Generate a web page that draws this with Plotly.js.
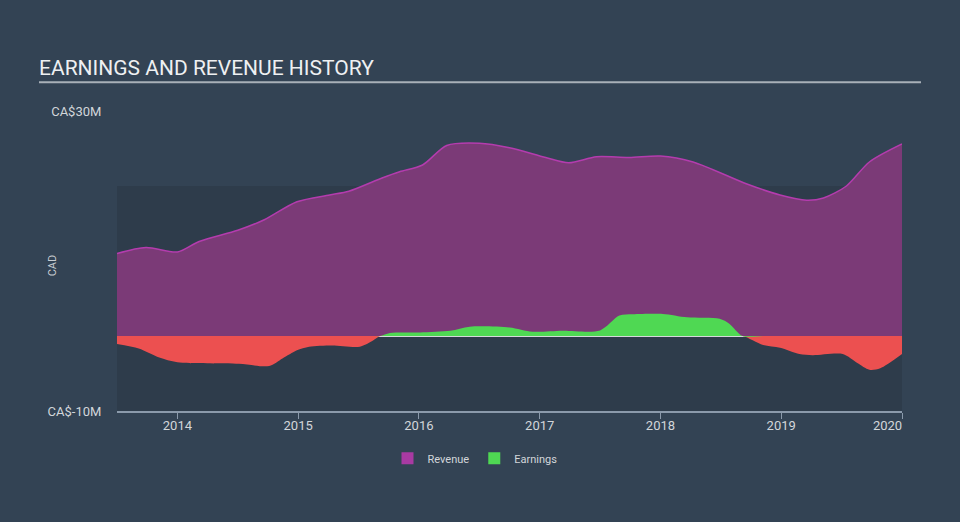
<!DOCTYPE html>
<html><head><meta charset="utf-8">
<script src="https://cdn.plot.ly/plotly-3.0.1.min.js"></script>
<style>html,body{margin:0;padding:0;background:#334354;}#chart{width:960px;height:522px;}</style>
</head><body><div id="chart"></div>
<script>
const revenueYears = [2013.5,2013.74,2014.0,2014.18,2014.5,2014.72,2014.99,2015.26,2015.42,2015.7,2015.84,2016.03,2016.23,2016.5,2016.75,2017.05,2017.24,2017.47,2017.74,2018.0,2018.27,2018.71,2018.99,2019.21,2019.35,2019.54,2019.73,2020.0];
const revenueValues = [11.0,11.8,11.2,12.6,14.1,15.5,17.9,18.8,19.3,21.1,21.9,22.8,25.4,25.7,25.1,23.8,23.1,23.9,23.8,24.0,23.2,20.3,18.8,18.1,18.4,20.0,23.2,25.6];
const earningsYears = [2013.5,2013.68,2013.85,2014.0,2014.51,2014.76,2014.87,2014.99,2015.09,2015.28,2015.51,2015.62,2015.68,2015.76,2016.01,2016.26,2016.42,2016.75,2016.94,2017.19,2017.5,2017.66,2017.77,2018.02,2018.22,2018.49,2018.57,2018.68,2018.85,2018.99,2019.15,2019.26,2019.51,2019.63,2019.73,2019.82,2020.0];
const earningsValues = [-1.07,-1.66,-2.87,-3.5,-3.7,-4.0,-3.0,-1.9,-1.43,-1.26,-1.43,-0.6,0,0.4,0.48,0.7,1.25,1.15,0.58,0.7,0.75,2.72,2.9,2.95,2.5,2.3,1.65,0,-1.2,-1.57,-2.4,-2.55,-2.4,-3.6,-4.5,-4.3,-2.4];
const yearTicks = [2014,2015,2016,2017,2018,2019,2020];
const yTickVals = [30,-10];
const yTickText = ['CA$30M','CA$-10M'];
const seriesNames = ['Revenue','Earnings'];

const earnPos = earningsValues.map(v => Math.max(v,0));
const earnNeg = earningsValues.map(v => Math.min(v,0));
const nb = '\u00a0'.repeat(9);
const xTickText = yearTicks.map((t,i) => i === yearTicks.length-1 ? String(t)+nb : String(t));

const traces = [
  {x: revenueYears, y: revenueValues, type:'scatter', mode:'lines', fill:'tozeroy',
   line:{shape:'spline', smoothing:0.8, color:'#b43cae', width:1.5}, fillcolor:'#7b3a77', showlegend:false, hoverinfo:'skip'},
  {x: earningsYears, y: earnNeg, type:'scatter', mode:'lines', fill:'tozeroy',
   line:{shape:'spline', smoothing:0.8, color:'#ec5050', width:0}, fillcolor:'#ec5050', showlegend:false, hoverinfo:'skip'},
  {x: earningsYears, y: earnPos, type:'scatter', mode:'lines', fill:'tozeroy',
   line:{shape:'spline', smoothing:0.8, color:'#4fd853', width:0}, fillcolor:'#4fd853', showlegend:false, hoverinfo:'skip'},
  {x:[null], y:[null], type:'bar', name: seriesNames[0], marker:{color:'#a83aa2'}},
  {x:[null], y:[null], type:'bar', name: seriesNames[1], marker:{color:'#4fd853'}}
];

const layout = {
  width:960, height:522,
  paper_bgcolor:'#334354', plot_bgcolor:'rgba(0,0,0,0)',
  margin:{l:117, r:58, t:111, b:111},
  font:{family:'Roboto, sans-serif', color:'#d2d6da', size:13},
  title:{text:'EARNINGS AND REVENUE HISTORY', xref:'container', yref:'container', x:39/960, xanchor:'left', y:1-68/522, yanchor:'middle', font:{size:21, color:'#eef0f2', family:'Roboto, sans-serif'}},
  xaxis:{range:[2013.5,2020.0], tickvals:yearTicks, ticktext:xTickText, showgrid:false, zeroline:false,
    showline:true, linecolor:'#8b9aab', linewidth:1.5, ticks:'outside', ticklen:6, tickcolor:'#8b9aab', ticklabelstandoff:-4, tickfont:{size:13, color:'#d2d6da'}, fixedrange:true},
  yaxis:{range:[-10,30], tickvals:yTickVals, ticktext:yTickText, showgrid:false, zeroline:true, zerolinecolor:'rgba(255,255,255,0.8)', zerolinewidth:1,
    showline:false, ticks:'outside', ticklen:12, tickcolor:'rgba(0,0,0,0)', tickfont:{size:13, color:'#d2d6da'}, fixedrange:true},
  shapes:[
    {type:'rect', xref:'paper', yref:'y', x0:0, x1:1, y0:-10, y1:20, fillcolor:'#2e3c4b', line:{width:0}, layer:'below'},
    {type:'line', xref:'paper', yref:'paper', x0:(39-117)/785, x1:(921-117)/785, y0:(410.7-82)/300, y1:(410.7-82)/300, line:{color:'#a9b0b8', width:2}}
  ],
  annotations:[
    {text:'CAD', xref:'paper', yref:'paper', x:(52-117)/785, y:(410.7-265)/300, showarrow:false, textangle:-90, font:{size:11, color:'#c8cdd2'}, xanchor:'center', yanchor:'middle'}
  ],
  legend:{orientation:'h', x:(475-117)/785, xanchor:'center', y:(410.7-458)/300, yanchor:'middle', font:{size:11, color:'#d2d6da'}, bgcolor:'rgba(0,0,0,0)', itemwidth:30},
  barmode:'overlay'
};
Plotly.newPlot('chart', traces, layout, {displayModeBar:false, staticPlot:true});
</script></body></html>
